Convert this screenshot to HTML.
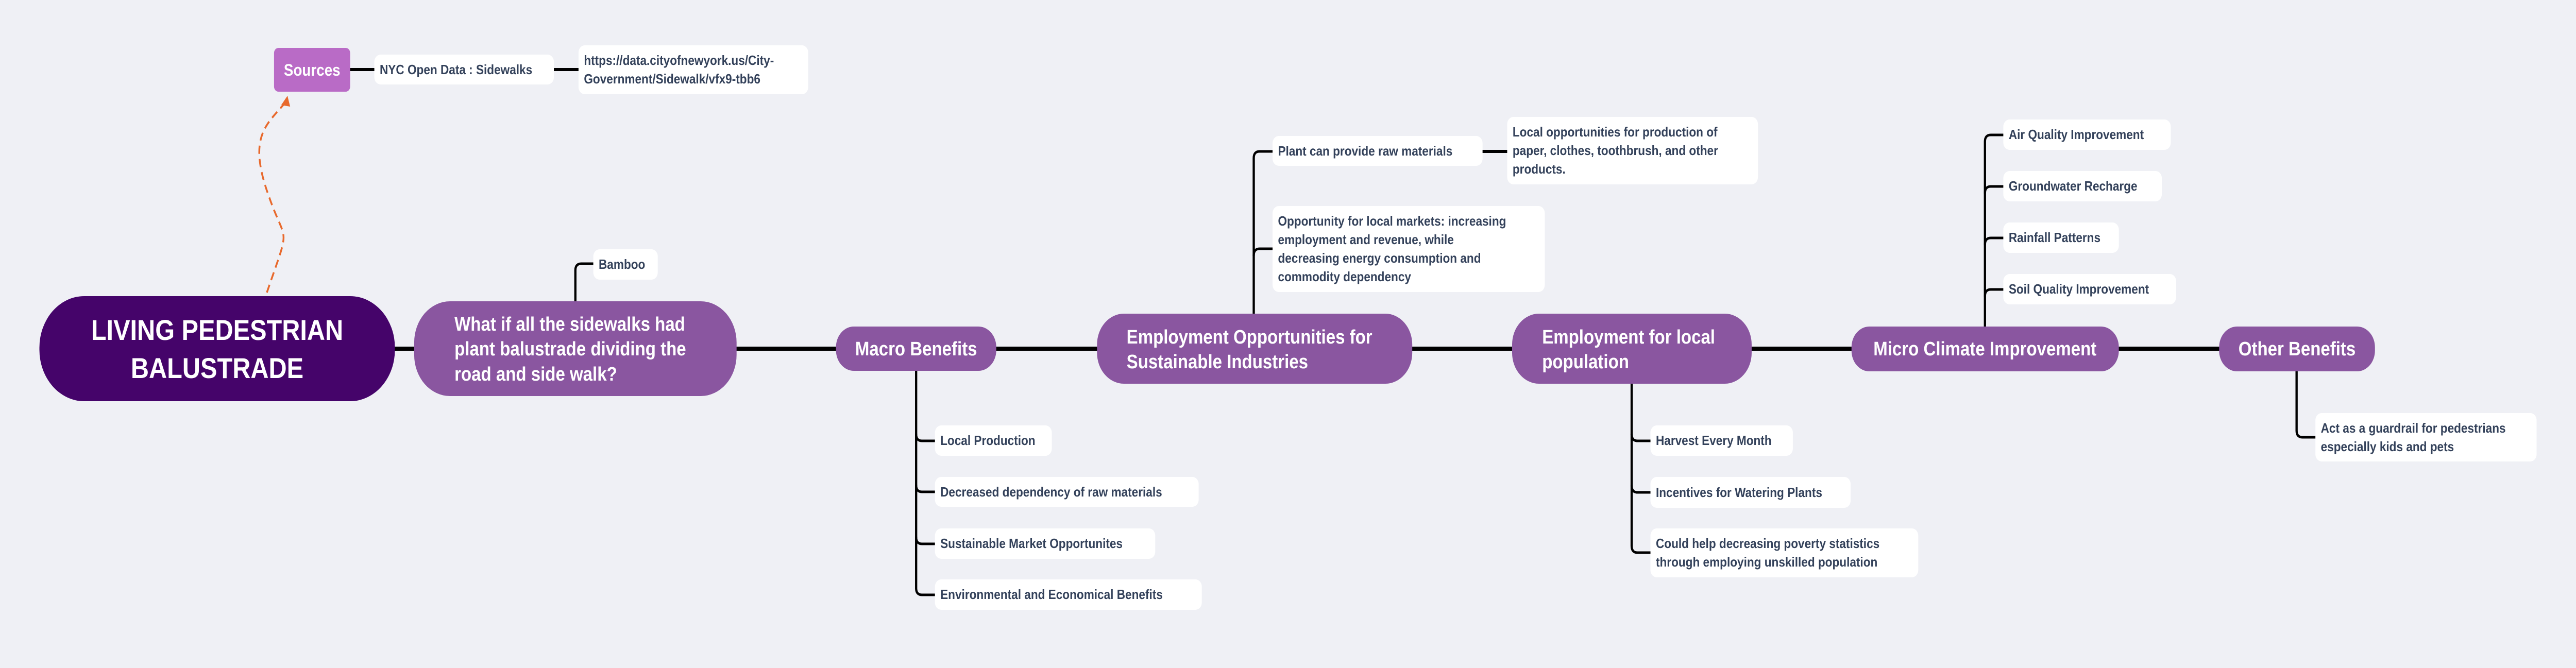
<!DOCTYPE html>
<html><head><meta charset="utf-8">
<style>
html,body{margin:0;padding:0;width:100%;height:100%;overflow:hidden;background:#eff0f5;}
svg{display:block;width:100vw;height:100vh;}
text{font-family:"Liberation Sans",sans-serif;font-weight:bold;}
.d{fill:#33415a;font-size:26px;}
.wt{fill:#fff;font-size:38px;}
</style></head><body>
<svg viewBox="0 0 5753 1297" preserveAspectRatio="none">
<rect x="0" y="0" width="5753" height="1297" fill="#eff0f5"/>
<g fill="none" stroke="#000" stroke-linecap="round">
<path d="M880 677 H4960" stroke-width="8"/>
<path d="M782 135 H836 M1237 135 H1292" stroke-width="6"/>
<path d="M3311 294 H3366" stroke-width="6"/>
<g stroke-width="5">
<path d="M1285 585 V525 Q1285 512 1298 512 H1325"/>
<path d="M2800 609 V307 Q2800 294 2813 294 H2842"/>
<path d="M2800 496 Q2800 483 2813 483 H2842"/>
<path d="M2046 720 V1142 Q2046 1155 2059 1155 H2088"/>
<path d="M2046 843 Q2046 856 2059 856 H2088"/>
<path d="M2046 942 Q2046 955 2059 955 H2088"/>
<path d="M2046 1043 Q2046 1056 2059 1056 H2088"/>
<path d="M3644 745 V1060 Q3644 1073 3657 1073 H3686"/>
<path d="M3644 843 Q3644 856 3657 856 H3686"/>
<path d="M3644 943 Q3644 956 3657 956 H3686"/>
<path d="M4433 634 V275 Q4433 262 4446 262 H4474"/>
<path d="M4433 375 Q4433 362 4446 362 H4474"/>
<path d="M4433 475 Q4433 462 4446 462 H4474"/>
<path d="M4433 575 Q4433 562 4446 562 H4474"/>
<path d="M5129 721 V836 Q5129 849 5142 849 H5171"/>
</g>
</g>
<path d="M596 568 C 650 430, 640 480, 600 380 C 550 260, 600 240, 640 196" fill="none" stroke="#e8692c" stroke-width="4" stroke-dasharray="16 10"/>
<path d="M642 186 L628 204 L648 207 Z" fill="#e8692c"/>

<!-- root -->
<rect x="88" y="575" width="794" height="204" rx="100" fill="#45046a"/>
<text class="wt" x="485" y="660" text-anchor="middle" style="font-size:56px">LIVING PEDESTRIAN</text>
<text class="wt" x="485" y="734" text-anchor="middle" style="font-size:56px">BALUSTRADE</text>

<!-- question -->
<rect x="925" y="585" width="720" height="184" rx="80" fill="#8a56a0"/>
<text class="wt" x="1015" y="642">What if all the sidewalks had</text>
<text class="wt" x="1015" y="690">plant balustrade dividing the</text>
<text class="wt" x="1015" y="739">road and side walk?</text>

<rect x="1325" y="484" width="144" height="59" rx="14" fill="#fff"/>
<text class="d" x="1337" y="522">Bamboo</text>

<!-- sources -->
<rect x="612" y="93" width="170" height="85" rx="10" fill="#b96bc6"/>
<text class="wt" x="697" y="147" text-anchor="middle" style="font-size:32px">Sources</text>
<rect x="836" y="106" width="401" height="58" rx="14" fill="#fff"/>
<text class="d" x="848" y="144">NYC Open Data : Sidewalks</text>
<rect x="1292" y="88" width="513" height="95" rx="14" fill="#fff"/>
<text class="d" x="1304" y="126">https://data.cityofnewyork.us/City-</text>
<text class="d" x="1304" y="162">Government/Sidewalk/vfx9-tbb6</text>

<!-- macro -->
<rect x="1867" y="634" width="358" height="86" rx="40" fill="#8a56a0"/>
<text class="wt" x="2046" y="690" text-anchor="middle">Macro Benefits</text>
<rect x="2088" y="826" width="261" height="59" rx="14" fill="#fff"/>
<text class="d" x="2100" y="864">Local Production</text>
<rect x="2088" y="926" width="589" height="58" rx="14" fill="#fff"/>
<text class="d" x="2100" y="964">Decreased dependency of raw materials</text>
<rect x="2088" y="1026" width="492" height="59" rx="14" fill="#fff"/>
<text class="d" x="2100" y="1064">Sustainable Market Opportunites</text>
<rect x="2088" y="1125" width="596" height="59" rx="14" fill="#fff"/>
<text class="d" x="2100" y="1163">Environmental and Economical Benefits</text>

<!-- employment opps -->
<rect x="2450" y="609" width="704" height="136" rx="60" fill="#8a56a0"/>
<text class="wt" x="2516" y="667">Employment Opportunities for</text>
<text class="wt" x="2516" y="715">Sustainable Industries</text>
<rect x="2842" y="264" width="469" height="58" rx="14" fill="#fff"/>
<text class="d" x="2854" y="302">Plant can provide raw materials</text>
<rect x="3366" y="227" width="560" height="131" rx="14" fill="#fff"/>
<text class="d" x="3378" y="265">Local opportunities for production of</text>
<text class="d" x="3378" y="301">paper, clothes, toothbrush,  and other</text>
<text class="d" x="3378" y="337">products.</text>
<rect x="2842" y="400" width="608" height="167" rx="14" fill="#fff"/>
<text class="d" x="2854" y="438">Opportunity for local markets: increasing</text>
<text class="d" x="2854" y="474">employment and revenue, while</text>
<text class="d" x="2854" y="510">decreasing energy consumption and</text>
<text class="d" x="2854" y="546">commodity dependency</text>

<!-- employment local -->
<rect x="3377" y="609" width="535" height="136" rx="60" fill="#8a56a0"/>
<text class="wt" x="3444" y="667">Employment for local</text>
<text class="wt" x="3444" y="715">population</text>
<rect x="3686" y="826" width="318" height="59" rx="14" fill="#fff"/>
<text class="d" x="3698" y="864">Harvest Every Month</text>
<rect x="3686" y="926" width="447" height="60" rx="14" fill="#fff"/>
<text class="d" x="3698" y="965">Incentives for Watering Plants</text>
<rect x="3686" y="1026" width="598" height="95" rx="14" fill="#fff"/>
<text class="d" x="3698" y="1064">Could help decreasing poverty statistics</text>
<text class="d" x="3698" y="1100">through employing unskilled population</text>

<!-- micro -->
<rect x="4135" y="634" width="597" height="87" rx="40" fill="#8a56a0"/>
<text class="wt" x="4433" y="690" text-anchor="middle">Micro Climate Improvement</text>
<rect x="4474" y="232" width="374" height="59" rx="14" fill="#fff"/>
<text class="d" x="4486" y="270">Air Quality Improvement</text>
<rect x="4474" y="332" width="354" height="59" rx="14" fill="#fff"/>
<text class="d" x="4486" y="370">Groundwater Recharge</text>
<rect x="4474" y="432" width="258" height="59" rx="14" fill="#fff"/>
<text class="d" x="4486" y="470">Rainfall Patterns</text>
<rect x="4474" y="532" width="386" height="59" rx="14" fill="#fff"/>
<text class="d" x="4486" y="570">Soil Quality Improvement</text>

<!-- other -->
<rect x="4956" y="634" width="348" height="87" rx="40" fill="#8a56a0"/>
<text class="wt" x="5130" y="690" text-anchor="middle">Other Benefits</text>
<rect x="5171" y="802" width="494" height="94" rx="14" fill="#fff"/>
<text class="d" x="5183" y="840">Act as a guardrail for pedestrians</text>
<text class="d" x="5183" y="876">especially kids and pets</text>
</svg>
</body></html>
